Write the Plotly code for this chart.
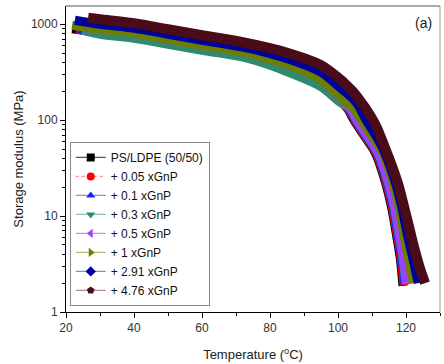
import plotly.graph_objects as go

# ---- data (temperature in °C, storage modulus in MPa) ----
names = ["PS/LDPE (50/50)", "+ 0.05 xGnP", "+ 0.1 xGnP", "+ 0.3 xGnP",
         "+ 0.5 xGnP", "+ 1 xGnP", "+ 2.91 xGnP", "+ 4.76 xGnP"]

T_ps = [21.8, 30, 40, 50, 60, 72, 80, 86, 90, 95, 100.6, 102.9, 104.7, 108.6, 111.0, 114.0, 115.8, 117.1, 118.3, 119.1]
E_ps = [896, 825, 750, 649, 562, 475, 393, 324, 284, 234, 162, 130, 100, 61.9, 45.3, 22.1, 12.1, 6.65, 3.65, 1.87]

T_005 = [23.0, 30, 40, 50, 60, 72, 80, 86, 90, 95, 100.6, 103.1, 104.95, 108.85, 111.25, 114.25, 116.05, 117.35, 118.55, 119.4]
E_005 = [892, 822, 747, 646, 559, 473, 391, 322, 282, 232, 161, 130, 100, 61.9, 45.3, 22.1, 12.1, 6.65, 3.65, 1.9]

T_01 = [23.5, 30, 40, 50, 60, 72, 80, 86, 90, 95, 100.6, 103.4, 105.2, 109.1, 111.5, 114.5, 116.3, 117.6, 118.8, 119.7]
E_01 = [887, 818, 744, 643, 557, 470, 389, 320, 280, 230, 160, 130, 100, 61.9, 45.3, 22.1, 12.1, 6.65, 3.65, 1.96]

T_03 = [24.7, 30, 40, 50, 60, 72, 80, 86, 90, 95, 100.6, 103.7, 105.5, 109.4, 111.8, 114.8, 116.6, 117.9, 119.1, 120.0]
E_03 = [866, 787, 715, 619, 536, 453, 374, 309, 271, 223, 154, 130, 100, 61.9, 45.3, 22.1, 12.1, 6.65, 3.65, 2.0]

T_05 = [25.0, 30, 40, 50, 60, 72, 80, 86, 90, 95, 100.6, 103.9, 105.7, 109.6, 112.0, 115.0, 116.8, 118.1, 119.3, 120.2]
E_05 = [930, 887, 806, 698, 604, 511, 432, 370, 324, 264, 172, 130, 100, 61.9, 45.3, 22.1, 12.1, 6.65, 3.65, 1.96]

T_1 = [21.8, 30, 40, 50, 60, 72, 80, 86, 90, 95, 100.6, 104.4, 106.9, 110.8, 113.2, 116.2, 118.0, 119.3, 120.7, 122.2]
E_1 = [976, 887, 806, 698, 604, 511, 432, 370, 324, 264, 174, 133, 100, 61.9, 45.3, 22.1, 12.1, 6.65, 3.65, 2.0]

T_291 = [22.6, 30, 40, 50, 60, 72, 80, 86, 90, 95, 100.6, 105.3, 108.3, 111.9, 113.8, 116.9, 118.8, 120.3, 122.0, 123.6]
E_291 = [1101, 1000, 908, 787, 681, 576, 493, 427, 379, 316, 218, 154, 100, 61.9, 45.3, 22.1, 12.1, 6.65, 3.65, 2.0]

T_476 = [26.5, 30, 40, 50, 60, 72, 80, 86, 90, 95, 100.6, 102.5, 104.0, 105.5, 106.8, 108.5, 110.3, 111.5,
         112.6, 114.2, 115.9, 117.6, 119.4, 121.2, 122.6, 124.0, 125.6]
E_476 = [1169, 1127, 1024, 887, 768, 649, 562, 493, 442, 374, 267, 232, 205, 178, 154, 127, 100, 82.5,
         66.5, 47.5, 33.2, 22.1, 12.7, 6.98, 4.42, 2.94, 2.0]

x_ticks = [20, 40, 60, 80, 100, 120]
y_ticks = [1, 10, 100, 1000]
y_ticklabels = ["1", "10", "100", "1000"]

series_T = [T_ps, T_005, T_01, T_03, T_05, T_1, T_291, T_476]
series_E = [E_ps, E_005, E_01, E_03, E_05, E_1, E_291, E_476]

colors = ["#000000", "#ff0000", "#1f1fff", "#2f8a73", "#a040ff", "#6b7f00", "#00009c", "#4a0c18"]
leg_line = ["#555555", "#ff8a8a", "#8a8aff", "#8fc4a8", "#c890ff", "#b0bf78", "#8a8ad8", "#b08a94"]
leg_dash = ["solid", "dot", "solid", "solid", "solid", "solid", "solid", "solid"]
symbols = ["square", "circle", "triangle-up", "triangle-down", "triangle-left",
           "triangle-right", "diamond", "pentagon"]
widths = [9, 9, 9, 9, 9, 9, 9, 10]

FONT = "Liberation Sans, Arial, sans-serif"

fig = go.Figure()
for i in range(len(names)):
    fig.add_trace(go.Scatter(
        x=series_T[i], y=series_E[i], mode="lines",
        line=dict(color=colors[i], width=widths[i], shape="spline", smoothing=1.1),
        showlegend=False, hoverinfo="skip"))
for i in range(len(names)):
    fig.add_trace(go.Scatter(
        x=[None], y=[None], mode="lines+markers", name=names[i],
        line=dict(color=leg_line[i], width=1.2, dash=leg_dash[i]),
        marker=dict(symbol=symbols[i], size=8, color=colors[i]),
        showlegend=True))

fig.update_layout(
    width=444, height=364,
    margin=dict(l=66, r=4, t=6, b=52, autoexpand=False),
    paper_bgcolor="white", plot_bgcolor="white",
    font=dict(family=FONT, size=12, color="#222222"),
    showlegend=True,
    legend=dict(x=0.01, y=0.02, xanchor="left", yanchor="bottom",
                bgcolor="white", bordercolor="#888888", borderwidth=1,
                font=dict(family=FONT, size=12, color="#111111"),
                tracegroupgap=0, itemwidth=30),
    xaxis=dict(range=[20, 130], showgrid=False, zeroline=False, automargin=False,
               showline=True, linecolor="black", linewidth=1,
               tickmode="array", tickvals=x_ticks,
               ticks="outside", ticklen=5, tickcolor="black",
               minor=dict(dtick=10, tick0=0, ticks="outside", ticklen=3, tickcolor="black"),
               tickfont=dict(size=12, color="#333333"),
               title=dict(text="Temperature (<sup>o</sup>C)", font=dict(size=13, color="#222222"))),
    yaxis=dict(type="log", range=[0, 3.19], showgrid=False, zeroline=False, automargin=False,
               showline=True, linecolor="black", linewidth=1,
               tickmode="array", tickvals=y_ticks, ticktext=y_ticklabels,
               ticks="outside", ticklen=5, tickcolor="black",
               minor=dict(tickvals=[2, 3, 4, 5, 6, 7, 8, 9, 20, 30, 40, 50, 60, 70, 80, 90,
                                    200, 300, 400, 500, 600, 700, 800, 900],
                          ticks="outside", ticklen=3, tickcolor="black"),
               tickfont=dict(size=12, color="#333333"),
               title=dict(text="Storage modulus (MPa)", font=dict(size=13, color="#222222"),
                          standoff=4)),
    shapes=[
        dict(type="line", xref="paper", yref="paper", x0=0, x1=1, y0=1, y1=1,
             line=dict(color="#555555", width=1)),
        dict(type="line", xref="paper", yref="paper", x0=1, x1=1, y0=0, y1=1,
             line=dict(color="#999999", width=1)),
    ],
    annotations=[dict(text="(a)", xref="paper", yref="paper", x=0.957, y=0.945,
                      xanchor="center", yanchor="middle",
                      showarrow=False, font=dict(family=FONT, size=14, color="#222222"))],
)

fig.write_html("out.html", config={"displayModeBar": False},
               post_script="document.body.style.margin='0';document.body.style.overflow='hidden';")
